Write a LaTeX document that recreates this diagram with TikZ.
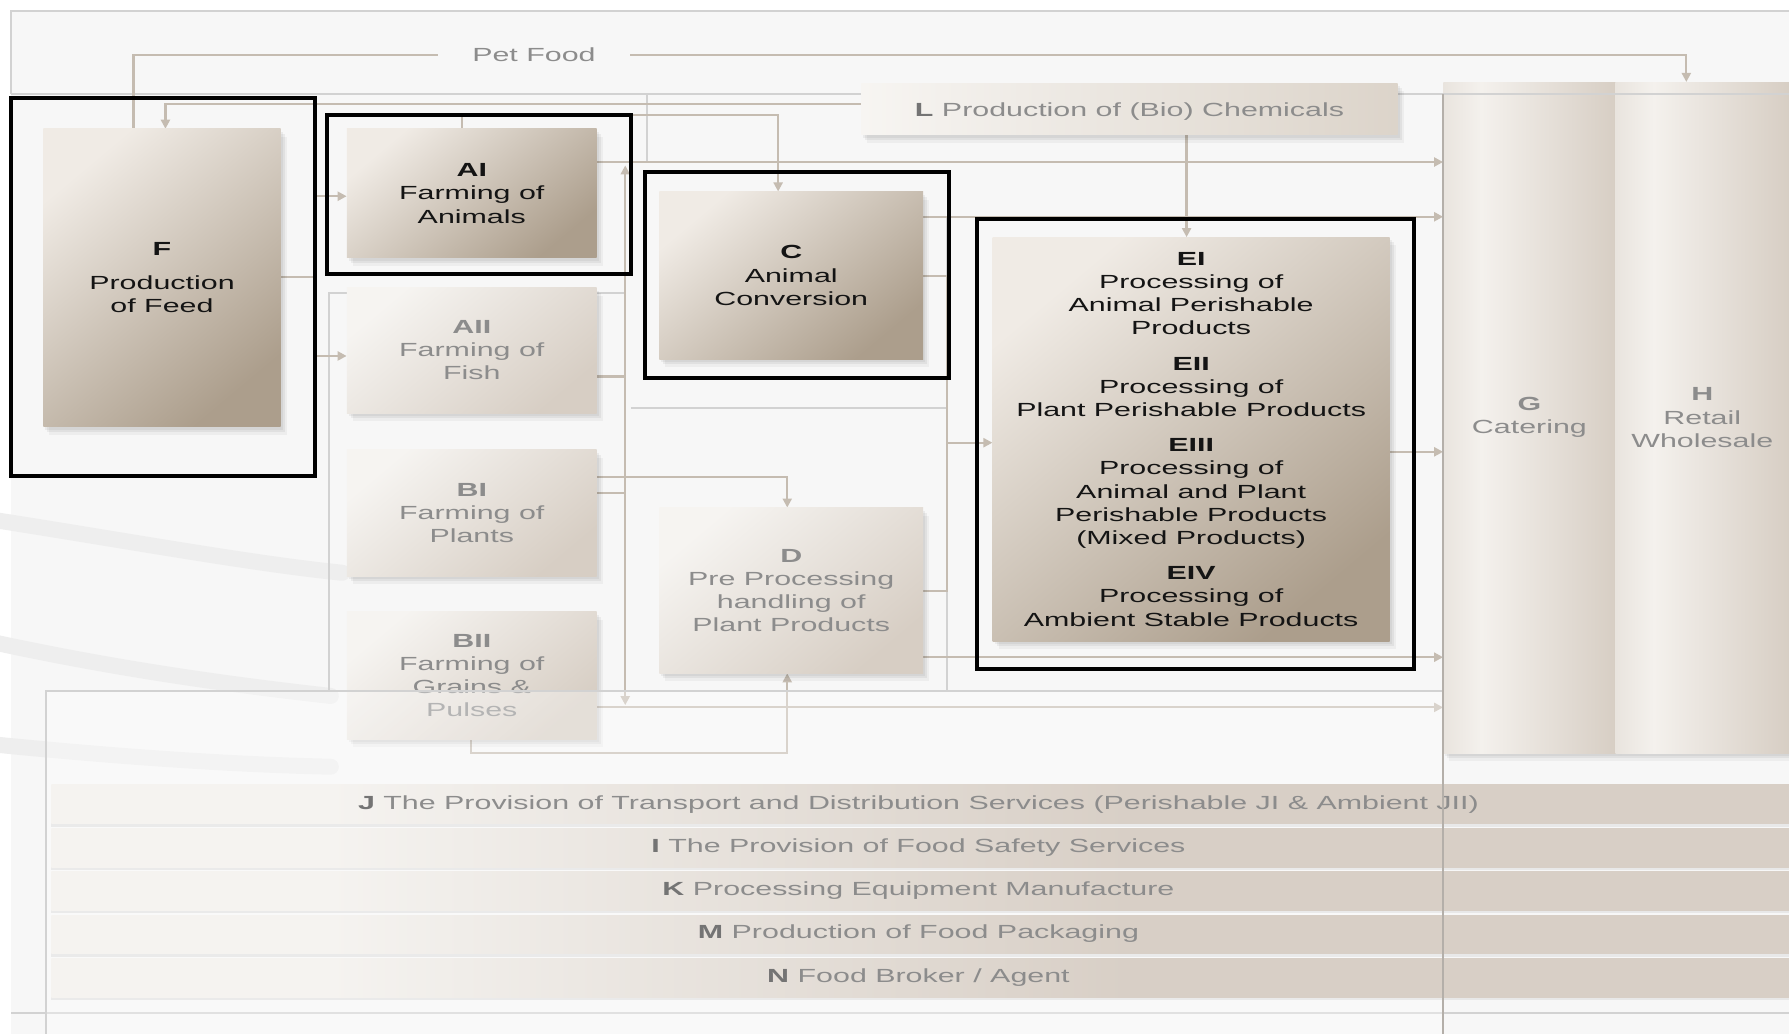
\documentclass[tikz,border=0pt]{standalone}
\usepackage{fontspec}
\setmainfont{Liberation Sans}[FakeStretch=1.6]
\usetikzlibrary{arrows.meta,fit,shadows}
\pgfdeclarelayer{back}
\pgfdeclarelayer{conns}
\pgfsetlayers{back,conns,main}

\definecolor{bgC}{HTML}{F7F7F7}
\definecolor{frameC}{HTML}{D2D2D2}
\definecolor{frameD}{HTML}{B4AFA9}
\definecolor{connC}{HTML}{C5BCB1}
\definecolor{strongL}{HTML}{F0EBE5}
\definecolor{strongD}{HTML}{AC9E8C}
\definecolor{fadeL}{HTML}{F6F4F1}
\definecolor{fadeD}{HTML}{D7CEC4}
\definecolor{barL}{HTML}{F5F3F0}
\definecolor{barD}{HTML}{D8CFC6}
\definecolor{colA}{HTML}{E9E4DE}
\definecolor{colL}{HTML}{F4F1ED}
\definecolor{colD}{HTML}{D7CEC4}
\definecolor{lL}{HTML}{F7F5F2}
\definecolor{lD}{HTML}{DCD4CA}
\definecolor{txtG}{HTML}{8C8C8C}
\definecolor{txtGd}{HTML}{747474}
\definecolor{swC}{HTML}{EEEEEE}

\pgfdeclarehorizontalshading{barshade}{100bp}{color(0bp)=(barL); color(33bp)=(barL); color(56bp)=(barD); color(100bp)=(barD)}
\pgfdeclarehorizontalshading{colshade}{100bp}{color(0bp)=(colA); color(25bp)=(colA); color(36bp)=(colL); color(75bp)=(colD); color(100bp)=(colD)}

\begin{document}
\begin{tikzpicture}[x=1.1409pt,y=-1.1409pt,
  font=\fontsize{19}{23.2}\selectfont,
  softshadow/.style={general shadow={fill=black,opacity=.05,shadow xshift=2pt,shadow yshift=-3pt},
                     general shadow={fill=black,opacity=.05,shadow xshift=4pt,shadow yshift=-5pt},
                     general shadow={fill=black,opacity=.04,shadow xshift=6pt,shadow yshift=-8pt}},
  boxbase/.style={inner sep=0pt},
  strong/.style={boxbase, top color=strongL, bottom color=strongD, shading angle=40, softshadow},
  faded/.style={boxbase, top color=fadeL, bottom color=fadeD, shading angle=40, softshadow},
  colbox/.style={boxbase, shade, shading=colshade, softshadow},
  barbox/.style={boxbase, shade, shading=barshade, general shadow={fill=black,opacity=.06,shadow yshift=-3pt}},
  txtS/.style={align=center, inner sep=0pt, text=black!92},
  txtF/.style={align=center, inner sep=0pt, text=txtG},
  outl/.style={draw=black, line width=4pt, inner sep=0pt},
  conn/.style={draw=connC, line width=2.2pt},
  arr/.style={conn, -{Triangle[width=9pt,length=9pt]}},
  frameln/.style={draw=frameC, line width=2pt},
  swoosh/.style={draw=swC, line width=16pt, line cap=round},
]
\useasboundingbox (0,0) rectangle (1568,906);

\begin{pgfonlayer}{back}
\fill[white] (0,0) rectangle (1568,906);
\fill[bgC] (10,10) rectangle (1568,906);
\draw[swoosh] (-10,455) .. controls (100,472) and (220,494) .. (300,502);
\draw[swoosh] (-10,562) .. controls (100,586) and (200,600) .. (290,610);
\draw[swoosh] (-10,652) .. controls (100,663) and (200,670) .. (290,672);
\draw[frameln] (10,82) -- (10,10) -- (1568,10);
\draw[frameln] (10,82) -- (567,82);
\draw[frameln] (567,142) -- (567,82);
\draw[frameln] (548,257) -- (288,257) -- (288,606);
\draw[frameln] (553,358) -- (830,358);
\draw[frameln] (830,190) -- (830,606);
\draw[frameln] (10,888) -- (1568,888);
\end{pgfonlayer}

% columns G, H
\node[colbox, fit={(1265,72) (1416,660)}] (G) {};
\node[txtF] (Gt) at (G) {\textbf{G}\\Catering};
\node[colbox, fit={(1416,72) (1568,660)}] (H) {};
\node[txtF] (Ht) at (H) {\textbf{H}\\Retail\\Wholesale};
\draw[frameln] (567,82) -- (1568,82);

% L box
\node[boxbase, left color=lL, right color=lD, softshadow, fit={(755,73) (1225,118)}] (L) {};
\node[txtF] (Lt) at (990,98) {\textcolor{txtGd}{\textbf{L}} Production of (Bio) Chemicals};

% strong boxes
\node[strong, fit={(38,113) (246,374)}] (F) {};
\node[txtS] (Ft) at (F) {\textbf{F}\\[11pt]Production\\of Feed};
\node[strong, fit={(304,113) (523,226)}] (AI) {};
\node[txtS] (AIt) at (AI) {\textbf{AI}\\Farming of\\Animals};
\node[strong, fit={(578,168) (809,315)}] (C) {};
\node[txtS] (Ct) at (C) {\textbf{C}\\Animal\\Conversion};
\node[strong, fit={(870,208) (1218,562)}] (E) {};
\node[txtS] (Et) at (E) {\textbf{EI}\\Processing of\\Animal Perishable\\Products\\[12pt]\textbf{EII}\\Processing of\\Plant Perishable Products\\[12pt]\textbf{EIII}\\Processing of\\Animal and Plant\\Perishable Products\\(Mixed Products)\\[12pt]\textbf{EIV}\\Processing of\\Ambient Stable Products};

% faded boxes
\node[faded, fit={(304,252) (523,362)}] (AII) {};
\node[txtF] (AIIt) at (AII) {\textbf{AII}\\Farming of\\Fish};
\node[faded, fit={(304,394) (523,505)}] (BI) {};
\node[txtF] (BIt) at (BI) {\textbf{BI}\\Farming of\\Plants};
\node[faded, fit={(304,536) (523,648)}] (BII) {};
\node[txtF] (BIIt) at (BII) {\textbf{BII}\\Farming of\\Grains \&\\Pulses};
\node[faded, fit={(578,445) (809,590)}] (D) {};
\node[txtF] (Dt) at (D) {\textbf{D}\\Pre Processing\\handling of\\Plant Products};

% black outlines
\node[outl, fit={(10,86) (276,417)}] (Fo) {};
\node[outl, fit={(287,101) (553,240)}] (AIo) {};
\node[outl, fit={(565,151) (832,331)}] (Co) {};
\node[outl, fit={(856,192) (1239,586)}] (Eo) {};

% bottom service panel
\fill[white, opacity=.35] (40,606) rectangle (1265,906);
\draw[frameln] (40,906) -- (40,606) -- (1265,606);
\node[barbox, fit={(45,688) (1568,722)}] (J) {};
\node[txtF] (Jt) at (805,705) {\textcolor{txtGd}{\textbf{J}} The Provision of Transport and Distribution Services (Perishable JI \& Ambient JII)};
\node[barbox, fit={(45,726) (1568,760)}] (I) {};
\node[txtF] (It) at (805,743) {\textcolor{txtGd}{\textbf{I}} The Provision of Food Safety Services};
\node[barbox, fit={(45,764) (1568,798)}] (K) {};
\node[txtF] (Kt) at (805,781) {\textcolor{txtGd}{\textbf{K}} Processing Equipment Manufacture};
\node[barbox, fit={(45,802) (1568,836)}] (M) {};
\node[txtF] (Mt) at (805,818) {\textcolor{txtGd}{\textbf{M}} Production of Food Packaging};
\node[barbox, fit={(45,840) (1568,874)}] (N) {};
\node[txtF] (Nt) at (805,857) {\textcolor{txtGd}{\textbf{N}} Food Broker / Agent};
\draw[draw=frameD, line width=2pt] (1265,82) -- (1265,906);

% connectors
\coordinate (colT) at (548,145);
\coordinate (colB) at (548,618);
\coordinate (busT) at (830,242);
\coordinate (busB) at (830,518);
\coordinate (busM) at (830,388);
\begin{pgfonlayer}{conns}
\draw[arr] (F.north -| 117,0) -- (117,48) -- (1478,48) -- (H.north -| 1478,0);
\draw[arr] (L.west |- 0,91) -- (145,91) -- (F.north -| 145,0);
\draw[arr] (AI.north -| 405,0) -- (405,101) -- (682,101) -- (C.north -| 682,0);
\draw[arr] (AI.east |- 0,142) -- (G.west |- 0,142);
\draw[conn] (F.east |- 0,243) -- (Fo.east |- 0,243);
\draw[arr] (Fo.east |- 0,172) -- (AI.west |- 0,172);
\draw[arr] (Fo.east |- 0,312) -- (AII.west |- 0,312);
\draw[conn, {Triangle[width=9pt,length=9pt]}-{Triangle[width=9pt,length=9pt]}] (colT) -- (colB);
\draw[conn] (AII.east |- 0,330) -- (colT |- 0,330);
\draw[conn] (BI.east |- 0,432) -- (colT |- 0,432);
\draw[arr] (BI.east |- 0,418) -- (690,418) -- (D.north -| 690,0);
\draw[arr] (BII.south -| 413,0) -- (413,660) -- (690,660) -- (D.south -| 690,0);
\draw[arr] (BII.east |- 0,620) -- (G.west |- 0,620);
\draw[arr] (C.east |- 0,190) -- (G.west |- 0,190);
\draw[conn] (C.east |- busT) -- (busT) -- (busB) -- (D.east |- busB);
\draw[arr] (busM) -- (E.west |- busM);
\draw[arr] (D.east |- 0,576) -- (G.west |- 0,576);
\draw[arr] (E.east |- 0,396) -- (G.west |- 0,396);
\draw[arr] (L.south -| 1040,0) -- (E.north -| 1040,0);
\end{pgfonlayer}

\node[fill=bgC, inner xsep=34pt, inner ysep=3pt, text=txtG] (pet) at (468,48) {Pet Food};
\end{tikzpicture}
\end{document}
